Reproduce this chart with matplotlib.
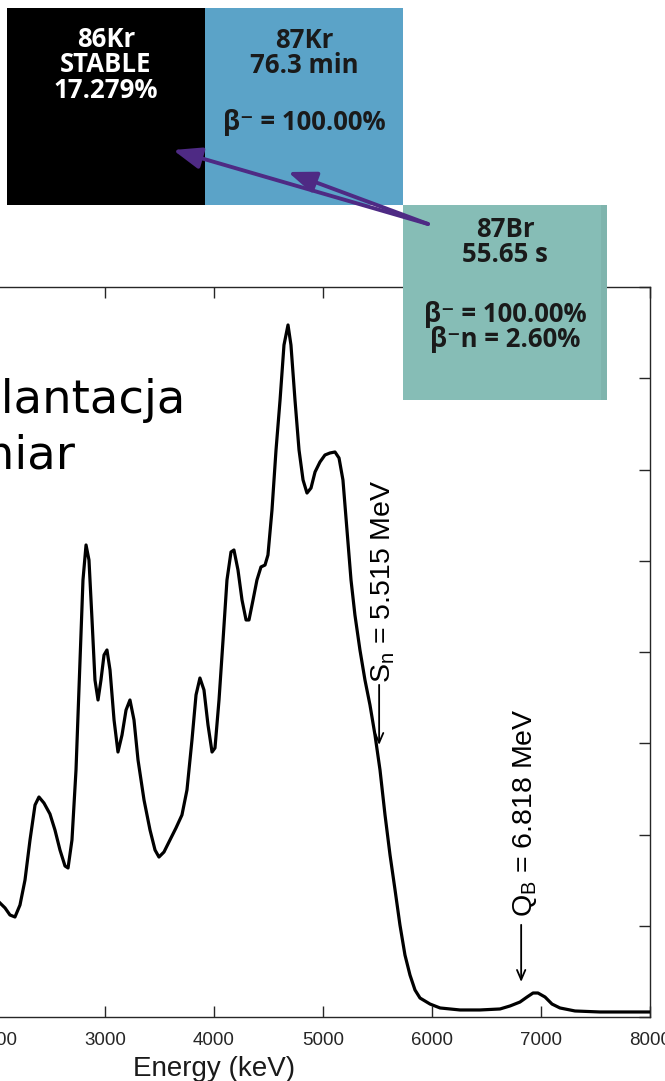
import matplotlib
matplotlib.use("Agg")
import matplotlib.pyplot as plt
from matplotlib.patches import Rectangle, FancyArrowPatch, ArrowStyle

# Beta-delayed spectrum of 87Br (energy in keV, counts per bin)
energy_kev = [2037, 2083, 2128, 2174, 2220, 2266, 2312, 2358, 2394, 2440,
              2495, 2541, 2587, 2633, 2661, 2697, 2734, 2771, 2798, 2826,
              2853, 2881, 2908, 2936, 2963, 2991, 3018, 3046, 3083, 3119,
              3156, 3193, 3229, 3266, 3303, 3358, 3413, 3459, 3495, 3541,
              3596, 3651, 3706, 3752, 3798, 3835, 3871, 3908, 3945, 3982,
              4009, 4046, 4083, 4119, 4156, 4183, 4220, 4257, 4294, 4321,
              4358, 4394, 4431, 4468, 4495, 4532, 4569, 4606, 4642, 4679,
              4706, 4743, 4780, 4817, 4853, 4890, 4927, 4972, 5018, 5064,
              5110, 5147, 5183, 5220, 5257, 5293, 5339, 5385, 5431, 5477,
              5523, 5569, 5615, 5661, 5706, 5752, 5798, 5844, 5890, 5982,
              6074, 6257, 6440, 6624, 6716, 6807, 6872, 6927, 6972, 7037,
              7101, 7174, 7312, 7541, 7990]
counts = [1249, 1195, 1118, 1096, 1227, 1501, 1940, 2323, 2411, 2345,
          2225, 2049, 1830, 1655, 1633, 1940, 2707, 3912, 4789, 5173,
          5008, 4351, 3693, 3474, 3693, 3967, 4022, 3803, 3255, 2904,
          3090, 3364, 3474, 3255, 2816, 2378, 2049, 1830, 1753, 1808,
          1940, 2071, 2214, 2488, 3036, 3529, 3715, 3584, 3200, 2904,
          2948, 3474, 4132, 4789, 5096, 5118, 4899, 4570, 4351, 4351,
          4570, 4789, 4932, 4953, 5063, 5556, 6214, 6762, 7364, 7584,
          7364, 6762, 6214, 5885, 5742, 5797, 5973, 6082, 6159, 6181,
          6192, 6126, 5885, 5337, 4789, 4405, 4022, 3693, 3419, 3090,
          2707, 2214, 1775, 1392, 1008, 679, 460, 296, 208, 142,
          99, 77, 77, 88, 121, 164, 219, 263, 263, 219,
          142, 99, 66, 55, 55]

x_ticks = [0, 1000, 2000, 3000, 4000, 5000, 6000, 7000, 8000]
y_ticks = [0, 1000, 2000, 3000, 4000, 5000, 6000, 7000, 8000]

# Threshold markers
sn_energy = 5515
qb_energy = 6818
sn_label = r"S$_\mathrm{n}$ = 5.515 MeV"
qb_label = r"Q$_\mathrm{B}$ = 6.818 MeV"

# Nuclide chart boxes: text blocks per box
nuclide_86kr = ["86Kr\nSTABLE\n17.279%"]
nuclide_87kr = ["87Kr\n76.3 min", "β⁻ = 100.00%"]
nuclide_87br = ["87Br\n55.65 s", "β⁻ = 100.00%\nβ⁻n = 2.60%"]

W, H = 665, 1081
plt.rcParams["mathtext.fontset"] = "custom"
plt.rcParams["mathtext.rm"] = "Liberation Sans"
plt.rcParams["mathtext.it"] = "Liberation Sans:italic"
plt.rcParams["mathtext.bf"] = "Liberation Sans:bold"

fig = plt.figure(figsize=(W / 100, H / 100), dpi=100)
fig.patch.set_facecolor("white")


def fx(px):
    return px / W


def fy(py):
    return 1 - py / H


ax = fig.add_axes([fx(-222), fy(1017), 872 / W, 730 / H])
ax.plot(energy_kev, counts, color="black", lw=2.3, zorder=3,
        solid_joinstyle="round")
ax.set_xlim(0, 8000)
ax.set_ylim(0, 8000)
ax.set_xticks(x_ticks)
ax.set_yticks(y_ticks)
ax.tick_params(direction="in", top=True, right=True, length=8, width=1,
               colors="#262626", labelsize=13.5, pad=11)
ax.tick_params(axis="y", labelleft=False)
for lab in ax.get_xticklabels():
    lab.set_family("Liberation Sans")
for s in ax.spines.values():
    s.set_color("#262626")
    s.set_linewidth(1.0)
ax.set_xlabel("Energy (keV)", fontsize=20, family="Liberation Sans",
              color="#1a1a1a", labelpad=5)

# Threshold arrows and labels
arrow_kw = dict(arrowstyle="->,head_length=0.7,head_width=0.3",
                lw=1.3, color="black", shrinkA=0, shrinkB=0)
ax.annotate("", xy=(sn_energy, 2981), xytext=(sn_energy, 3640),
            arrowprops=arrow_kw)
ax.annotate(sn_label, xy=(sn_energy, 3660), xytext=(3, 0),
            textcoords="offset points", rotation=90, ha="center",
            va="bottom", fontsize=20.5, family="Liberation Sans")
ax.annotate("", xy=(qb_energy, 384), xytext=(qb_energy, 1010),
            arrowprops=arrow_kw)
ax.annotate(qb_label, xy=(qb_energy, 1100), xytext=(3, 0),
            textcoords="offset points", rotation=90, ha="center",
            va="bottom", fontsize=20.5, family="Liberation Sans")

# Slide caption
fig.text(fx(-88), fy(413), "Implantacja", fontsize=33.5, family="DejaVu Sans",
         va="baseline", ha="left", zorder=4)
fig.text(fx(-88), fy(469), "pomiar", fontsize=33.5, family="DejaVu Sans",
         va="baseline", ha="left", zorder=4)

# Nuclide boxes
box_font = ["Open Sans", "DejaVu Sans"]


def nuclide_box(x0, y0, x1, y1, color, blocks, ys, tcolor):
    fig.add_artist(Rectangle((fx(x0), fy(y1)), fx(x1) - fx(x0), fy(y0) - fy(y1),
                             transform=fig.transFigure, facecolor=color,
                             edgecolor="none", zorder=5))
    cx = (x0 + x1) / 2
    for block, yy in zip(blocks, ys):
        fig.text(fx(cx), fy(yy), block, ha="center", va="center",
                 multialignment="center", linespacing=0.94,
                 fontsize=18.5, fontweight="bold", family=box_font,
                 color=tcolor, zorder=6)


nuclide_box(7, 8, 205, 205, "#000000", nuclide_86kr, [65], "white")
nuclide_box(205, 8, 403, 205, "#5BA3C8", nuclide_87kr, [53, 123], "#1a1a1a")
nuclide_box(403, 205, 607, 400, "#86BDB6", nuclide_87br, [242, 327], "#1a1a1a")
fig.add_artist(Rectangle((fx(601), fy(400)), fx(607) - fx(601), fy(205) - fy(400),
                         transform=fig.transFigure, facecolor="#7FB4AD",
                         edgecolor="none", zorder=5))

# Decay arrows
head = ArrowStyle("-|>", head_length=1.7, head_width=0.65)
for tip in [(173, 150), (288, 172)]:
    fig.add_artist(FancyArrowPatch((fx(428), fy(224)), (fx(tip[0]), fy(tip[1])),
                                   transform=fig.transFigure, arrowstyle=head,
                                   mutation_scale=10, lw=2.8, color="#4E2A84",
                                   shrinkA=0, shrinkB=0, zorder=7))

fig.savefig("out.png", dpi=100)
